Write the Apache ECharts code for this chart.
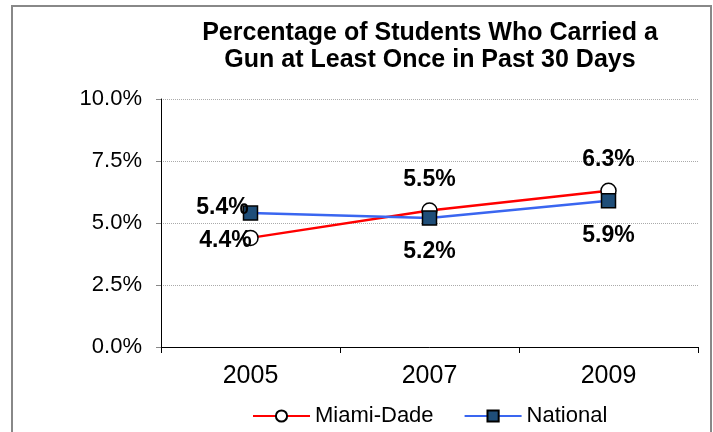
<!DOCTYPE html>
<html lang="en">
<head>
    <meta charset="UTF-8">
    <title>Carried a Gun</title>
    <script src="https://cdn.jsdelivr.net/npm/echarts@6/dist/echarts.min.js"></script>
    <style>
        body { margin: 0; background: #fff; }
        #main { width: 713px; height: 432px; }
    </style>
</head>
<body>
<div id="main"></div>
<script>
    // chart data
    var years = ['2005', '2007', '2009'];
    var miamiDade = [4.4, 5.5, 6.3];
    var national = [5.4, 5.2, 5.9];
    var seriesNames = ['Miami-Dade', 'National'];

    var font = 'Arial, "Liberation Sans", sans-serif';
    var chart = echarts.init(document.getElementById('main'));

    // label offsets from each point, like excel placed them
    var miamiOffsets = [[-25, 3], [0, -31], [0, -31]];
    var nationalOffsets = [[-28, -5], [0, 34], [0, 35]];

    function placeLabel(offsets) {
        return function (p) {
            var o = offsets[p.dataIndex];
            return {
                x: p.rect.x + p.rect.width / 2 + o[0],
                y: p.rect.y + p.rect.height / 2 + o[1],
                align: 'center',
                verticalAlign: 'middle'
            };
        };
    }

    var labelStyle = {
        show: true,
        position: 'inside',
        fontFamily: font,
        fontSize: 23,
        fontWeight: 'bold',
        color: '#000',
        formatter: function (p) { return p.value.toFixed(1) + '%'; }
    };

    var option = {
        animation: false,
        backgroundColor: '#fff',
        title: {
            text: 'Percentage of Students Who Carried a\nGun at Least Once in Past 30 Days',
            left: 425,
            top: 15,
            textAlign: 'center',
            textStyle: {
                fontFamily: font,
                fontSize: 25,
                fontWeight: 'bold',
                color: '#000',
                lineHeight: 27
            }
        },
        graphic: [{
            type: 'rect',
            shape: { x: 12, y: 6, width: 699, height: 440 },
            style: { fill: 'none', stroke: '#888', lineWidth: 2 },
            silent: true
        }],
        legend: {
            data: seriesNames,
            left: 247,
            top: 400,
            itemWidth: 57,
            itemHeight: 14,
            itemGap: 30,
            textStyle: { fontFamily: font, fontSize: 22, color: '#000' }
        },
        grid: { left: 161, right: 15, top: 99, bottom: 85 },
        xAxis: {
            type: 'category',
            data: years,
            axisLine: { lineStyle: { color: '#000', width: 1 } },
            axisTick: { show: true, length: 6, lineStyle: { color: '#000' } },
            axisLabel: { fontFamily: font, fontSize: 25, color: '#000', margin: 17 },
            splitLine: { show: false }
        },
        yAxis: {
            type: 'value',
            min: 0,
            max: 10,
            interval: 2.5,
            axisLine: { show: true, lineStyle: { color: '#000', width: 1 } },
            axisTick: { show: true, length: 5, lineStyle: { color: '#888' } },
            axisLabel: {
                fontFamily: font, fontSize: 22, color: '#000', margin: 19,
                formatter: function (v) { return v.toFixed(1) + '%'; }
            },
            splitLine: { lineStyle: { color: '#aaa', type: 'dotted', width: 1 } }
        },
        series: [{
            name: seriesNames[0],
            type: 'line',
            data: miamiDade,
            z: 3,
            symbol: 'circle',
            symbolSize: 15,
            lineStyle: { color: '#ff0000', width: 2.5 },
            itemStyle: { color: '#fff', borderColor: '#000', borderWidth: 1.5 },
            label: labelStyle,
            labelLayout: placeLabel(miamiOffsets)
        }, {
            name: seriesNames[1],
            type: 'line',
            data: national,
            z: 4,
            symbol: 'rect',
            symbolSize: 14,
            lineStyle: { color: '#3a66f0', width: 2.5 },
            itemStyle: { color: '#1f4e79', borderColor: '#000', borderWidth: 1.5 },
            label: labelStyle,
            labelLayout: placeLabel(nationalOffsets)
        }]
    };

    chart.setOption(option);
</script>
</body>
</html>
